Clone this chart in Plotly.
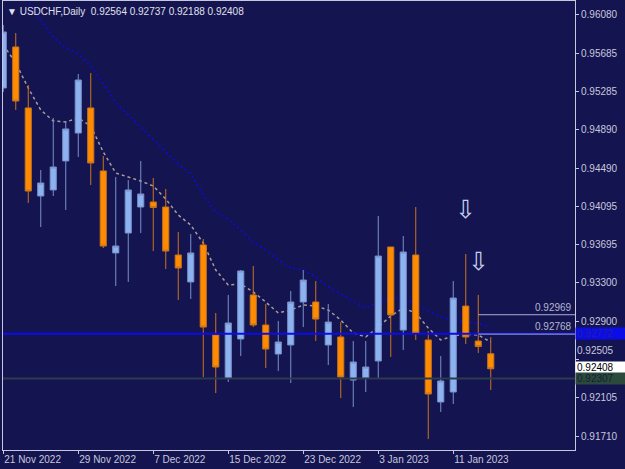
import plotly.graph_objects as go

# ---------------- data ----------------
dates = ["21 Nov 2022", "29 Nov 2022", "7 Dec 2022", "15 Dec 2022",
         "23 Dec 2022", "3 Jan 2023", "11 Jan 2023"]
date_idx = [0, 6, 12, 18, 24, 30, 36]

opens = [0.95322, 0.95748, 0.95115, 0.94201, 0.94264, 0.94565, 0.94855, 0.95115,
         0.94461, 0.93610, 0.93817, 0.94087, 0.94139, 0.94087, 0.93589, 0.93309,
         0.93693, 0.92758, 0.92312, 0.92717, 0.93174, 0.92862, 0.92561, 0.92655,
         0.93101, 0.93101, 0.92655, 0.92738, 0.92291, 0.92312, 0.92489, 0.93672,
         0.92810, 0.93589, 0.92707, 0.92063, 0.92167, 0.93059, 0.92696, 0.92564]
highs = [0.95976, 0.95893, 0.95353, 0.94471, 0.95011, 0.94980, 0.95468, 0.95478,
         0.94616, 0.94398, 0.94367, 0.94565, 0.94388, 0.94274, 0.93828, 0.93807,
         0.93755, 0.92987, 0.93174, 0.93433, 0.93475, 0.93080, 0.92904, 0.93215,
         0.93433, 0.93319, 0.93080, 0.92893, 0.92696, 0.92696, 0.93994, 0.93672,
         0.93786, 0.94087, 0.92800, 0.92540, 0.93319, 0.93599, 0.93174, 0.92737]
lows = [0.95281, 0.95094, 0.94129, 0.93879, 0.94201, 0.94056, 0.94606, 0.94315,
        0.93661, 0.93267, 0.93309, 0.93817, 0.93630, 0.93443, 0.93122, 0.93132,
        0.92322, 0.92156, 0.92271, 0.92540, 0.92841, 0.92416, 0.92385, 0.92260,
        0.92841, 0.92696, 0.92447, 0.92104, 0.92011, 0.92167, 0.92312, 0.92530,
        0.92603, 0.92707, 0.91679, 0.91959, 0.92042, 0.92665, 0.92572, 0.92188]
closes = [0.95904, 0.95187, 0.94253, 0.94336, 0.94502, 0.94897, 0.95405, 0.94544,
          0.93682, 0.93682, 0.94264, 0.94222, 0.94082, 0.93630, 0.93454, 0.93610,
          0.92841, 0.92426, 0.92883, 0.93423, 0.92862, 0.92613, 0.92686, 0.93101,
          0.93329, 0.92924, 0.92893, 0.92322, 0.92478, 0.92426, 0.93578, 0.92966,
          0.93620, 0.92779, 0.92146, 0.92281, 0.93142, 0.92738, 0.92639, 0.92408]

ma_slow = [0.96651, 0.96423, 0.96215, 0.96018, 0.95852, 0.95737, 0.95675, 0.95551,
           0.95374, 0.95167, 0.95042, 0.94917, 0.94793, 0.94658, 0.94533, 0.94430,
           0.94212, 0.94035, 0.93962, 0.93848, 0.93724, 0.93641, 0.93537, 0.93454,
           0.93433, 0.93360, 0.93257, 0.93184, 0.93111, 0.93039, 0.93101, 0.93142,
           0.93142, 0.93080, 0.93008, 0.92945, 0.92914, 0.92893, 0.92883, 0.92841]
ma_fast = [0.95769, 0.95582, 0.95322, 0.95094, 0.94980, 0.94969, 0.95011, 0.94928,
           0.94658, 0.94440, 0.94398, 0.94357, 0.94305, 0.94170, 0.94004, 0.93900,
           0.93713, 0.93433, 0.93277, 0.93288, 0.93205, 0.93101, 0.92987, 0.93018,
           0.93070, 0.93059, 0.93018, 0.92914, 0.92779, 0.92738, 0.92841, 0.92956,
           0.93039, 0.92987, 0.92831, 0.92707, 0.92748, 0.92769, 0.92758, 0.92686]

ytick_vals = [0.96080, 0.95685, 0.95285, 0.94890, 0.94490, 0.94095,
              0.93695, 0.93300, 0.92900, 0.92505, 0.92105, 0.91710]
ytick_text = ["0.96080", "0.95685", "0.95285", "0.94890", "0.94490", "0.94095",
              "0.93695", "0.93300", "0.92900", "", "0.92105", "0.91710"]

hline_blue = 0.92772
hline_dark = 0.92307
level_lines = [0.92969, 0.92768]
level_start = 38
arrow_idx = [37, 38]
arrow_price = [0.94056, 0.93526]
bid = 0.92408

title = "▼ USDCHF,Daily  0.92564 0.92737 0.92188 0.92408"

# ---------------- style ----------------
BG = "#141450"
FG = "#c8c8dc"
FONT = "Liberation Sans"
XRANGE = [-0.02, 45.74]
YRANGE = [0.91565, 0.96225]

xs = list(range(len(opens)))

fig = go.Figure()

fig.add_trace(go.Scatter(x=xs, y=ma_slow, mode="lines",
                         line=dict(color="#0c0cd0", width=1.8, dash="2px,3px"),
                         hoverinfo="skip", showlegend=False))
fig.add_trace(go.Scatter(x=xs, y=ma_fast, mode="lines",
                         line=dict(color="#a89c98", width=1.5, dash="3px,3px"),
                         hoverinfo="skip", showlegend=False))

# candles on an overlaying axis pair so they are drawn above the averages
fig.add_trace(go.Candlestick(
    x=xs, open=opens, high=highs, low=lows, close=closes,
    xaxis="x2", yaxis="y2",
    increasing=dict(fillcolor="#8db2f0", line=dict(color="#7890c8", width=1)),
    decreasing=dict(fillcolor="#ff8c00", line=dict(color="#c8741c", width=1)),
    whiskerwidth=0, showlegend=False, hoverinfo="skip"))

# horizontal lines
fig.add_shape(type="line", xref="paper", x0=0, x1=1, yref="y",
              y0=hline_dark, y1=hline_dark,
              line=dict(color="#2b3a4e", width=2), layer="above")
fig.add_shape(type="line", xref="paper", x0=0, x1=1, yref="y",
              y0=hline_blue, y1=hline_blue,
              line=dict(color="#0c0ce6", width=2), layer="above")
for lv in level_lines:
    fig.add_shape(type="line", xref="x", x0=level_start, x1=60, yref="y",
                  y0=lv, y1=lv, line=dict(color="#a8b0cc", width=1), layer="above")
    fig.add_annotation(xref="paper", x=1, xanchor="right", xshift=-1,
                       yref="y", y=lv, yanchor="bottom", yshift=0,
                       text=f"{lv:.5f}", showarrow=False,
                       font=dict(family=FONT, size=10, color="#b4b8d0"))

# arrows
for ai, ap in zip(arrow_idx, arrow_price):
    fig.add_annotation(x=ai, y=ap, xref="x", yref="y", text="⇩", showarrow=False,
                       font=dict(family="DejaVu Sans", size=25, color="#c4d0ec"))

# price boxes at axis
fig.add_annotation(xref="paper", x=1, xanchor="left", xshift=0,
                   yref="y", y=0.92505, yshift=9, text="0.92505", showarrow=False,
                   font=dict(family=FONT, size=10, color=FG))
fig.add_annotation(xref="paper", x=1, xanchor="left", yref="y", y=hline_blue,
                   text="0.92772", showarrow=False, bgcolor="#0c0ce6",
                   width=47, height=9, borderpad=1, align="left",
                   font=dict(family=FONT, size=10, color="#22229a"))
fig.add_annotation(xref="paper", x=1, xanchor="left", yref="y", y=bid, yshift=1,
                   text="0.92408", showarrow=False, bgcolor="#ffffff",
                   width=47, height=9, borderpad=1, align="left",
                   font=dict(family=FONT, size=10, color="#000000"))
fig.add_annotation(xref="paper", x=1, xanchor="left", yref="y", y=hline_dark,
                   text="0.92307", showarrow=False, bgcolor="#2b4a3c",
                   width=47, height=9, borderpad=1, align="left",
                   font=dict(family=FONT, size=10, color="#13203a"))

# title
fig.add_annotation(xref="paper", yref="paper", x=0, y=1, xanchor="left", yanchor="top",
                   xshift=2, yshift=-3, text=title, showarrow=False,
                   font=dict(family=FONT, size=10, color="#e0e0ec"))

fig.update_layout(
    width=625, height=469,
    margin=dict(l=3, r=50, t=1, b=19, pad=0),
    paper_bgcolor=BG, plot_bgcolor=BG,
    showlegend=False,
    font=dict(family=FONT, size=10, color=FG),
    xaxis=dict(range=XRANGE, tickvals=date_idx, ticktext=dates,
               ticks="outside", ticklen=3, tickcolor=FG, showline=True,
               linecolor=FG, linewidth=1, mirror=True, showgrid=False,
               zeroline=False, rangeslider=dict(visible=False),
               ticklabelposition="outside right",
               tickfont=dict(family=FONT, size=10, color=FG)),
    yaxis=dict(range=YRANGE, side="right", tickvals=ytick_vals,
               ticktext=ytick_text, ticks="outside", ticklen=3, tickcolor=FG,
               showline=True, linecolor=FG, linewidth=1, mirror=True,
               showgrid=False, zeroline=False,
               tickfont=dict(family=FONT, size=10, color=FG)),
    xaxis2=dict(range=XRANGE, overlaying="x", visible=False,
                rangeslider=dict(visible=False), showgrid=False, zeroline=False),
    yaxis2=dict(range=YRANGE, overlaying="y", visible=False,
                showgrid=False, zeroline=False),
)

fig.write_html("out.html")
